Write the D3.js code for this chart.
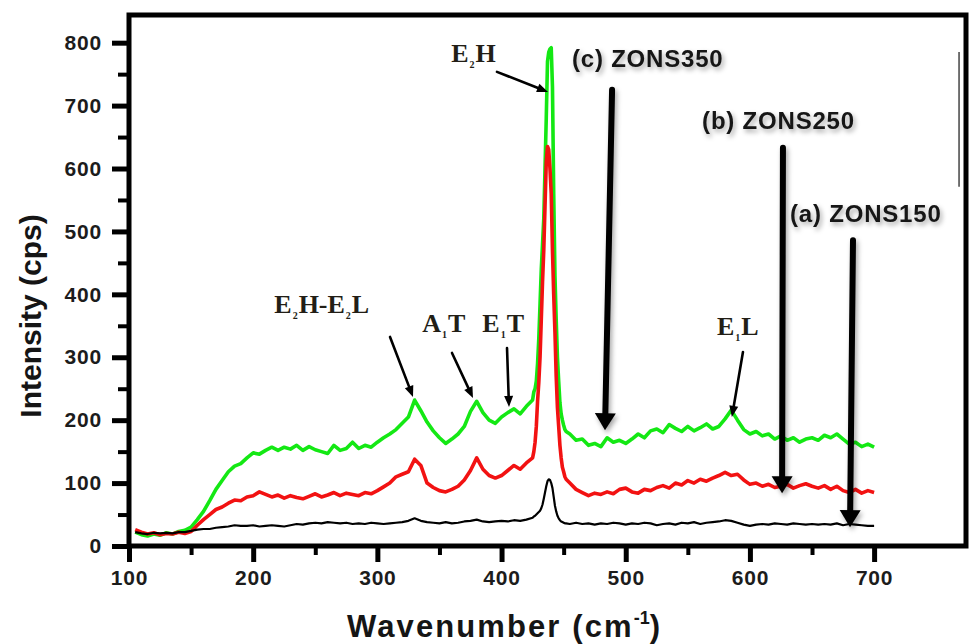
<!DOCTYPE html>
<html lang="en">

<head>
    <meta charset="UTF-8">
    <title>Raman spectra ZONS</title>
    <style>
        body {
            margin: 0;
            background: #fff;
        }

        .tick text {
            font: bold 21px "Liberation Sans", Arial, sans-serif;
            fill: #1c1c1c;
            letter-spacing: 0.8px;
        }

        .tick line {
            stroke: #000;
        }

        .spectrum {
            fill: none;
            stroke-linejoin: round;
        }

        .title {
            font-family: "Liberation Sans", Arial, sans-serif;
            font-weight: bold;
            fill: #151515;
        }

        .peak {
            font: bold 26px "Liberation Serif", "Times New Roman", serif;
            fill: #221e16;
        }
    </style>
</head>

<body>
    <script src="https://d3js.org/d3.v7.min.js"></script>
    <script>
        // Raman shift (cm-1)
        const wavenumber = [
            105, 110, 115, 120, 125, 130, 135, 140, 145, 150, 155, 160, 165, 170, 175, 180, 185, 190, 195, 200,
            205, 210, 215, 220, 225, 230, 235, 240, 245, 250, 255, 260, 265, 270, 275, 280, 285, 290, 295, 300,
            305, 310, 315, 320, 325, 330, 335, 340, 345, 350, 355, 360, 365, 370, 375, 380, 385, 390, 395, 400,
            405, 410, 415, 420, 425,
            426, 427, 428, 429, 430, 431, 432, 433, 434, 435, 436, 437, 438, 439, 440, 441, 442, 443, 444, 445,
            446, 447, 448, 449, 450, 451, 452,
            455, 460, 465, 470, 475, 480, 485, 490, 495, 500, 505, 510, 515, 520, 525, 530, 535, 540, 545, 550,
            555, 560, 565, 570, 575, 580, 585, 590, 595, 600, 605, 610, 615, 620, 625, 630, 635, 640, 645, 650,
            655, 660, 665, 670, 675, 680, 685, 690, 695, 700
        ];

        // (a) ZONS150 - black
        const zons150 = [
            22, 20, 19, 21, 20, 21, 20, 22, 22, 24, 26, 27, 27, 29, 30, 31, 33, 32, 32, 33,
            31, 32, 33, 32, 31, 33, 35, 34, 36, 37, 36, 38, 37, 36, 37, 35, 36, 35, 37, 36,
            35, 36, 37, 38, 40, 44, 40, 38, 37, 36, 38, 36, 37, 39, 40, 42, 39, 38, 39, 40,
            39, 41, 40, 42, 45,
            47, 48, 50, 52, 54, 56, 60, 66, 75, 85, 95, 103, 106, 105, 100, 92, 78, 64, 55, 48,
            44, 41, 39, 38, 37, 36, 36,
            35, 37, 35, 36, 34, 36, 35, 37, 36, 34, 36, 35, 37, 36, 33, 35, 36, 34, 37, 36,
            38, 35, 37, 38, 39, 41, 40, 37, 34, 32, 34, 35, 34, 36, 35, 34, 36, 35, 34, 35,
            34, 35, 34, 36, 33, 35, 34, 33, 32, 32
        ];

        // (b) ZONS250 - red
        const zons250 = [
            26, 22, 19, 21, 18, 20, 19, 22, 20, 23, 33, 42, 50, 58, 62, 68, 73, 72, 78, 80,
            86, 82, 78, 81, 76, 80, 77, 75, 79, 83, 78, 81, 85, 80, 84, 82, 80, 85, 83, 88,
            94, 100, 110, 114, 118, 138, 128, 100, 93, 88, 86, 90, 95, 105, 120, 140, 122, 112, 108, 112,
            120, 128, 122, 132, 140,
            150, 165, 190, 230, 260, 300, 360, 420, 470, 540, 610, 635, 630, 600, 560, 470, 400, 340, 270, 220,
            190, 160, 140, 125, 118, 110, 106,
            100, 90, 85, 80, 84, 82, 86, 83, 90, 92, 86, 84, 90, 88, 93, 96, 92, 100, 97, 104,
            100, 106, 103, 108, 112, 117, 112, 114, 105, 98, 100, 95, 98, 93, 95, 98, 92, 96, 99, 95,
            92, 96, 90, 95, 88, 85, 90, 84, 88, 85
        ];

        // (c) ZONS350 - green
        const zons350 = [
            22, 18, 16, 19, 17, 21, 19, 23, 25, 30, 42, 55, 72, 90, 104, 118, 127, 131, 140, 148,
            146, 152, 157, 152, 157, 154, 160, 152, 158, 153, 150, 147, 160, 152, 155, 165, 155, 160, 157, 165,
            172, 178, 185, 195, 205, 232, 215, 197, 183, 172, 163, 170, 178, 190, 214, 230, 212, 200, 195, 205,
            212, 218, 210, 222, 232,
            245, 250, 262, 290, 330, 385, 440, 480, 520, 600, 680, 770, 785, 790, 792, 730, 560, 430, 360, 300,
            262, 228, 210, 200, 192, 185, 182,
            178, 168, 170, 160, 163, 158, 172, 165, 168, 163, 170, 178, 172, 183, 186, 180, 193, 187, 182, 190,
            183, 188, 194, 186, 190, 202, 216, 200, 185, 178, 182, 175, 178, 170, 175, 168, 172, 165, 170, 172,
            168, 176, 172, 178, 170, 162, 165, 158, 162, 157
        ];

        const xTicks = [100, 200, 300, 400, 500, 600, 700];
        const xMinorTicks = [150, 250, 350, 450, 550, 650];
        const yTicks = [0, 100, 200, 300, 400, 500, 600, 700, 800];
        const yMinorTicks = [50, 150, 250, 350, 450, 550, 650, 750];

        // sample labels and their arrows, in data units
        const sampleNames = ["(a) ZONS150", "(b) ZONS250", "(c) ZONS350"];
        const sampleLabelAt = [[632.3, 515], [561.5, 663], [456.7, 761.5]];
        const sampleArrows = [
            [[683, 486], [680.6, 30]],
            [[626.6, 633], [625.9, 84]],
            [[489, 725], [483.3, 184]]
        ];

        // peak assignments ("_n" = subscript)
        const peakNames = ["E_2H", "E_2H-E_2L", "A_1T", "E_1T", "E_1L"];
        const peakLabelAt = [[359.5, 769.5], [217, 370.4], [336.2, 340.2], [384.5, 340.2], [573.5, 335.5]];
        const peakArrows = [
            [[396.3, 753.6], [437.4, 721.8]],
            [[310.2, 332.3], [328.7, 236.9]],
            [[360.1, 306.8], [377, 235.3]],
            [[404.4, 314.8], [406, 221]],
            [[594.4, 308.4], [585.5, 205.1]]
        ];

        const width = 970;
        const height = 644;

        const x = d3.scaleLinear().domain([100, 774]).range([129, 966]);
        const y = d3.scaleLinear().domain([0, 844]).range([546, 15]);

        const svg = d3.select("body").append("svg")
            .attr("width", width)
            .attr("height", height);

        const defs = svg.append("defs");
        defs.append("filter")
            .attr("id", "shadow")
            .attr("x", "-50%").attr("y", "-50%")
            .attr("width", "200%").attr("height", "200%")
            .append("feDropShadow")
            .attr("dx", 2)
            .attr("dy", 3)
            .attr("stdDeviation", 2.5)
            .attr("flood-color", "#000")
            .attr("flood-opacity", 0.35);

        svg.append("rect")
            .attr("width", width)
            .attr("height", height)
            .attr("fill", "#fff");

        // spectra
        const line = d3.line()
            .x(d => x(d[0]))
            .y(d => y(d[1]));

        const spectra = [
            { values: zons350, color: "#14e814", w: 3.6 },
            { values: zons250, color: "#f21212", w: 3.6 },
            { values: zons150, color: "#000", w: 2.2 }
        ];

        svg.selectAll(".spectrum")
            .data(spectra)
            .join("path")
            .attr("class", "spectrum")
            .attr("stroke", d => d.color)
            .attr("stroke-width", d => d.w)
            .attr("d", d => line(d3.zip(wavenumber, d.values)));

        // axes
        const xMinor = svg.append("g")
            .attr("transform", `translate(0,${y(0)})`)
            .call(d3.axisBottom(x).tickValues(xMinorTicks).tickSize(9).tickFormat(""));
        const xMajor = svg.append("g")
            .attr("transform", `translate(0,${y(0)})`)
            .call(d3.axisBottom(x).tickValues(xTicks).tickSize(16).tickPadding(8));
        const yMinor = svg.append("g")
            .attr("transform", `translate(${x(100)},0)`)
            .call(d3.axisLeft(y).tickValues(yMinorTicks).tickSize(11).tickFormat(""));
        const yMajor = svg.append("g")
            .attr("transform", `translate(${x(100)},0)`)
            .call(d3.axisLeft(y).tickValues(yTicks).tickSize(17).tickPadding(10));

        [xMinor, xMajor, yMinor, yMajor].forEach(g => g.select(".domain").remove());
        [xMinor, yMinor].forEach(g => g.selectAll(".tick line").attr("stroke-width", 4));
        [xMajor, yMajor].forEach(g => g.selectAll(".tick line").attr("stroke-width", 5));

        // frame
        svg.append("rect")
            .attr("x", x(100))
            .attr("y", y(844))
            .attr("width", x(774) - x(100))
            .attr("height", y(0) - y(844))
            .attr("fill", "none")
            .attr("stroke", "#000")
            .attr("stroke-width", 5);

        // stray thin line near right border
        svg.append("line")
            .attr("x1", x(768.4)).attr("x2", x(768.4))
            .attr("y1", y(785)).attr("y2", y(571))
            .attr("stroke", "#444")
            .attr("stroke-width", 1.5);

        // axis titles
        const xt = svg.append("text")
            .attr("class", "title")
            .attr("x", 347)
            .attr("y", 637)
            .attr("font-size", 31)
            .attr("letter-spacing", 2.1);
        xt.append("tspan").text("Wavenumber (cm");
        xt.append("tspan").attr("font-size", 18).attr("dy", -13).attr("letter-spacing", 0).text("-1");
        xt.append("tspan").attr("dy", 13).text(")");

        svg.append("text")
            .attr("class", "title")
            .attr("font-size", 30)
            .attr("text-anchor", "middle")
            .attr("transform", "translate(41,316) rotate(-90)")
            .text("Intensity (cps)");

        function arrow(g, p0, p1, w, headLen, headW) {
            const x0 = x(p0[0]), y0 = y(p0[1]), x1 = x(p1[0]), y1 = y(p1[1]);
            const len = Math.hypot(x1 - x0, y1 - y0);
            const ux = (x1 - x0) / len, uy = (y1 - y0) / len;
            const bx = x1 - ux * headLen, by = y1 - uy * headLen;
            g.append("line")
                .attr("x1", x0).attr("y1", y0)
                .attr("x2", bx + ux * 1).attr("y2", by + uy * 1)
                .attr("stroke", "#000")
                .attr("stroke-width", w)
                .attr("stroke-linecap", "round");
            g.append("path")
                .attr("d", `M${x1},${y1}L${bx - uy * headW / 2},${by + ux * headW / 2}L${bx + uy * headW / 2},${by - ux * headW / 2}Z`)
                .attr("fill", "#000");
        }

        // sample labels
        const samples = svg.append("g").attr("filter", "url(#shadow)");
        sampleNames.forEach((name, i) => {
            samples.append("text")
                .attr("class", "title")
                .attr("font-size", 24)
                .attr("letter-spacing", 0.8)
                .attr("fill", "#111")
                .attr("x", x(sampleLabelAt[i][0]))
                .attr("y", y(sampleLabelAt[i][1]))
                .text(name);
            arrow(samples, sampleArrows[i][0], sampleArrows[i][1], 6, 17, 21);
        });

        // peak labels
        const peaks = svg.append("g");
        peakNames.forEach((name, i) => {
            const t = peaks.append("text")
                .attr("class", "peak")
                .attr("x", x(peakLabelAt[i][0]))
                .attr("y", y(peakLabelAt[i][1]));
            const parts = name.split(/_(\d)/);
            parts.forEach((p, j) => {
                if (j % 2 === 1) {
                    t.append("tspan").attr("font-size", 10).attr("dy", 6).attr("dx", 1).text(p);
                } else {
                    t.append("tspan").attr("dy", j > 0 ? -6 : 0).attr("dx", j > 0 ? 1 : 0).text(p);
                }
            });
            arrow(peaks, peakArrows[i][0], peakArrows[i][1], 2.6, 11, 9);
        });
    </script>
</body>

</html>
